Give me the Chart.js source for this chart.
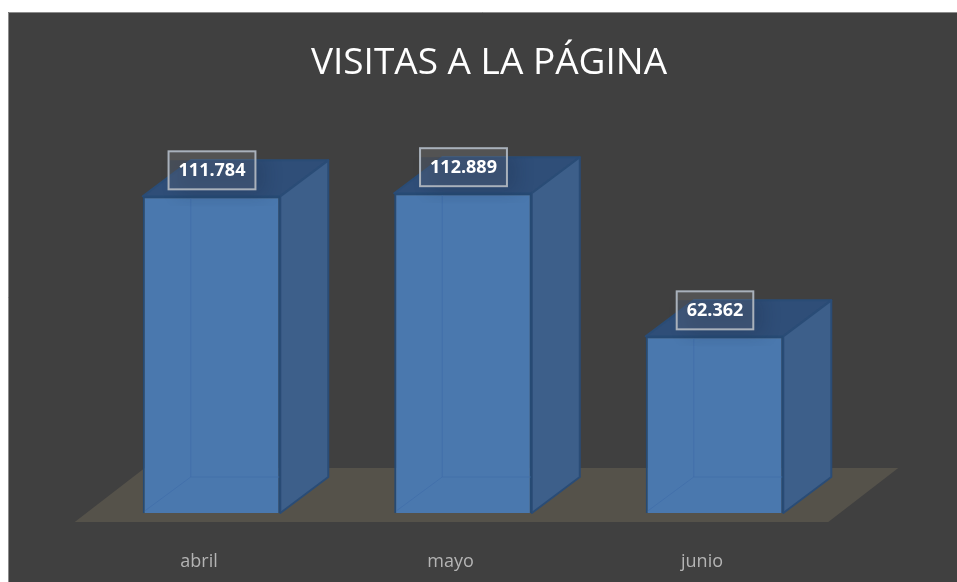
<!DOCTYPE html>
<html><head><meta charset="utf-8">
<style>html,body{margin:0;padding:0;background:#fff}canvas{display:block}</style>
<script src="https://cdn.jsdelivr.net/npm/chart.js@4"></script>
</head><body>
<div style="width:957px;height:582px"><canvas id="c"></canvas></div>
<script>
const categories = ['abril', 'mayo', 'junio'];
const visitas = [111784, 112889, 62362];
const titleText = 'VISITAS A LA PÁGINA';

const DX = 48, DY = -36;
const fmt = v => String(v).replace(/\B(?=(\d{3})+$)/g, '.');

const cube = {
  id: 'cube',
  beforeDraw(chart) {
    const c = chart.ctx;
    c.save();
    c.fillStyle = '#ffffff'; c.fillRect(0, 0, 957, 582);
    c.fillStyle = '#404040'; c.fillRect(8, 12, 949, 570);
    c.strokeStyle = '#8c8c8c'; c.lineWidth = 1;
    c.beginPath(); c.moveTo(8.5, 582); c.lineTo(8.5, 12.5); c.lineTo(957, 12.5); c.stroke();
    c.restore();
  },
  beforeDatasetsDraw(chart) {
    const c = chart.ctx, base = chart.scales.y.getPixelForValue(0);
    const xs = chart.scales.x;
    c.save();
    // floor
    c.fillStyle = '#55524a';
    c.beginPath();
    c.moveTo(xs.left - 11, base + 9);
    c.lineTo(xs.right - 12, base + 9);
    c.lineTo(xs.right + 58, base - 45);
    c.lineTo(xs.left + 59, base - 45);
    c.closePath(); c.fill();
    chart.getDatasetMeta(0).data.forEach(b => {
      const l = b.x - b.width / 2, r = b.x + b.width / 2, t = b.y, bt = b.base;
      c.lineWidth = 2; c.strokeStyle = '#2a4c76'; c.lineJoin = 'round';
      // top face
      c.fillStyle = '#2f4e78';
      c.beginPath(); c.moveTo(l, t); c.lineTo(l + DX, t + DY); c.lineTo(r + DX, t + DY); c.lineTo(r, t); c.closePath(); c.fill(); c.stroke();
      // right face
      c.fillStyle = '#3d5f8a';
      c.beginPath(); c.moveTo(r, t); c.lineTo(r + DX, t + DY); c.lineTo(r + DX, bt + DY); c.lineTo(r, bt); c.closePath(); c.fill(); c.stroke();
    });
    c.restore();
  },
  afterDatasetsDraw(chart) {
    const c = chart.ctx;
    c.save();
    chart.getDatasetMeta(0).data.forEach((b, i) => {
      const l = b.x - b.width / 2, r = b.x + b.width / 2, t = b.y, bt = b.base;
      // hidden edges seen through the front
      c.strokeStyle = 'rgba(64,110,170,0.75)'; c.lineWidth = 1;
      c.beginPath();
      c.moveTo(l + 2, bt - 2); c.lineTo(l + DX, bt + DY);
      c.moveTo(l + DX, t + 2); c.lineTo(l + DX, bt + DY); c.lineTo(r - 1, bt + DY);
      c.stroke();
      // soft shadow of the label
      const txt = fmt(visitas[i]);
      c.font = 'bold 18px "Open Sans"';
      const w = c.measureText(txt).width + 20, h = 38, x = b.x - w / 2 + 0.5, y = t - 26 - h / 2;
      c.save();
      c.beginPath(); c.rect(l, t + DY, r - l + DX, 46); c.clip();
      c.shadowColor = 'rgba(20,30,50,0.55)'; c.shadowBlur = 18; c.shadowOffsetX = 10; c.shadowOffsetY = 5;
      c.fillStyle = 'rgba(30,50,80,0.35)';
      c.fillRect(x, y, w, h);
      c.restore();
      // label box
      c.fillStyle = '#36598a';
      c.globalAlpha = 0.0;
      c.globalAlpha = 1;
      c.fillStyle = 'rgba(255,255,255,0.10)';
      c.fillRect(x, y, w, h);
      c.strokeStyle = '#a9b1bb'; c.lineWidth = 2;
      c.strokeRect(x, y, w, h);
      c.fillStyle = '#ffffff';
      c.textAlign = 'center'; c.textBaseline = 'middle';
      c.fillText(txt, x + w / 2, y + h / 2 + 1);
    });
    c.restore();
  }
};

new Chart(document.getElementById('c'), {
  type: 'bar',
  plugins: [cube],
  data: {
    labels: categories,
    datasets: [{
      data: visitas,
      backgroundColor: '#4a78ae',
      borderColor: '#264a73',
      borderWidth: 2,
      barPercentage: 0.547,
      categoryPercentage: 1
    }]
  },
  options: {
    responsive: true,
    maintainAspectRatio: false,
    animation: false,
    layout: { padding: { left: 85.75, right: 64.75, top: 0, bottom: 0 } },
    plugins: {
      legend: { display: false },
      tooltip: { enabled: false },
      title: {
        display: true,
        text: titleText,
        color: '#ffffff',
        font: { family: '"Open Sans"', size: 37, weight: 'normal' },
        padding: { top: 41, bottom: 31 }
      }
    },
    scales: {
      x: {
        grid: { display: false },
        border: { display: false },
        afterFit(s) { s.height = 69; },
        ticks: {
          color: '#b4b4b4',
          font: { family: '"Open Sans"', size: 18 },
          padding: 30,
          labelOffset: -12.5,
          maxRotation: 0
        }
      },
      y: {
        position: 'right',
        min: 0,
        max: 140000,
        grid: { display: false },
        border: { display: false },
        ticks: { display: false },
        afterFit(s) { s.width = 52; }
      }
    }
  }
});
</script>
</body></html>
